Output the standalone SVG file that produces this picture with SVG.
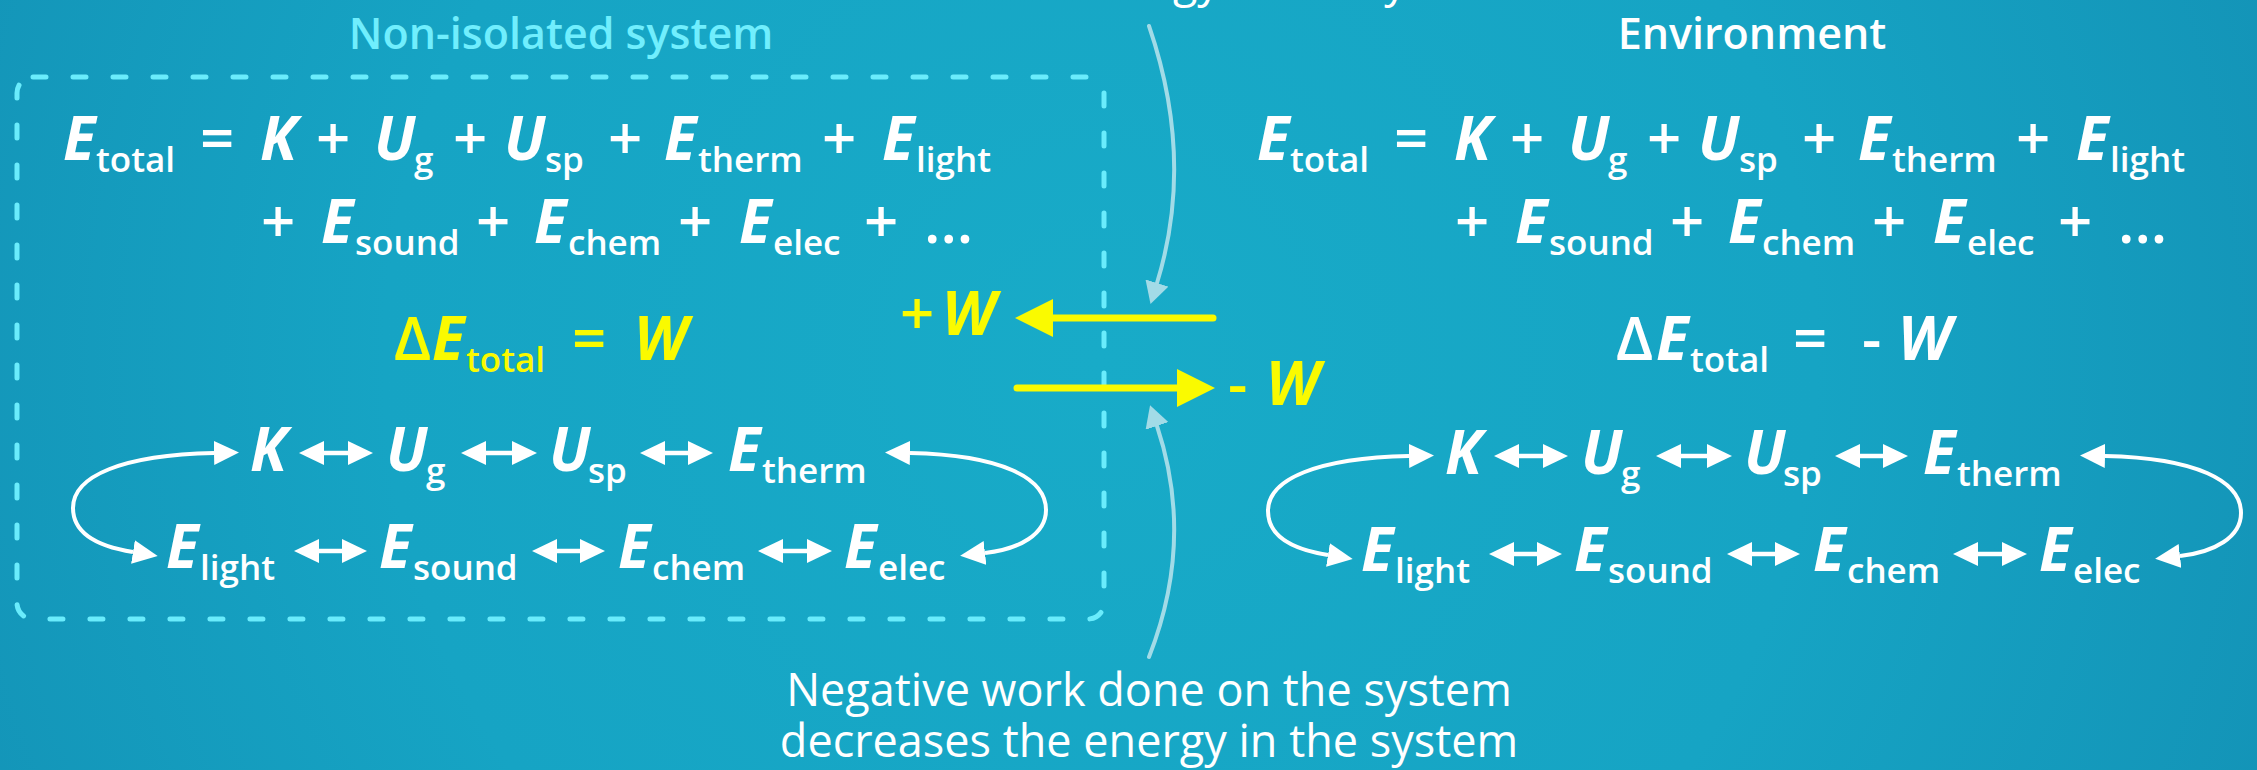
<svg xmlns="http://www.w3.org/2000/svg" width="2257" height="770" viewBox="0 0 2257 770">
  <defs>
    <radialGradient id="bg" cx="1100" cy="360" r="1300" gradientUnits="userSpaceOnUse">
      <stop offset="0" stop-color="#18abc8"/>
      <stop offset="0.55" stop-color="#16a4c4"/>
      <stop offset="1" stop-color="#1392b6"/>
    </radialGradient>
    <!-- white head for the energy-conversion chain -->
    <marker id="head-w" viewBox="0 0 25 24" markerWidth="25" markerHeight="24" refX="0" refY="12" orient="auto-start-reverse" markerUnits="userSpaceOnUse">
      <path d="M0,0 L25,12 L0,24 z" fill="#ffffff"/>
    </marker>
    <!-- yellow head for work arrows -->
    <marker id="head-y" viewBox="0 0 38 38" markerWidth="38" markerHeight="38" refX="0" refY="19" orient="auto" markerUnits="userSpaceOnUse">
      <path d="M0,0 L38,19 L0,38 z" fill="#fafa00"/>
    </marker>
    <!-- pale head for the note pointers -->
    <marker id="head-n" viewBox="0 0 22 24" markerWidth="22" markerHeight="24" refX="0" refY="12" orient="auto" markerUnits="userSpaceOnUse">
      <path d="M0,0 L22,12 L0,24 z" fill="#a2dbe7"/>
    </marker>
    <style>
      text { font-family: "Open Sans", "Liberation Sans", sans-serif; fill: #ffffff; }
      .title { font-size: 43px; font-weight: 600; text-anchor: middle; }
      .cyan { fill: #70eefd; }
      .v { font-size: 60px; font-style: italic; font-weight: 700; }
      .op { font-size: 60px; font-style: normal; font-weight: 600; }
      .s { font-size: 35px; font-style: normal; font-weight: 600; }
      .yel { fill: #fafa00; }
      .note { font-size: 45px; font-weight: 400; text-anchor: middle; }
      .box { fill: none; stroke: #6aecfc; stroke-width: 5; stroke-dasharray: 13 27; stroke-linecap: round; }
      .dbl { stroke: #ffffff; stroke-width: 4.5; fill: none; marker-start: url(#head-w); marker-end: url(#head-w); }
      .loop { stroke: #ffffff; stroke-width: 4; fill: none; marker-start: url(#head-w); marker-end: url(#head-w); }
      .work { stroke: #fafa00; stroke-width: 7; stroke-linecap: round; marker-end: url(#head-y); }
      .ptr { stroke: #a2dbe7; stroke-width: 4; fill: none; stroke-linecap: round; marker-end: url(#head-n); }
    </style>
  </defs>

  <rect width="2257" height="770" fill="url(#bg)"/>

  <!-- system boundary and title -->
  <g id="system">
    <rect class="box" x="17" y="77" width="1087" height="542" rx="16"/>
    <text class="title cyan" x="561" y="49">Non-isolated system</text>
  </g>

  <g id="environment">
    <text class="title" x="1752" y="49">Environment</text>
  </g>

  <!-- total energy sums -->
  <g id="system-energy">
    <text class="v" y="160">
      <tspan x="63">E</tspan><tspan class="s" x="96" y="172">total</tspan><tspan class="op" x="200" y="160">=</tspan><tspan x="260">K</tspan><tspan class="op" x="316">+</tspan><tspan x="374">U</tspan><tspan class="s" x="414" y="172">g</tspan><tspan class="op" x="453" y="160">+</tspan><tspan x="504">U</tspan><tspan class="s" x="545" y="172">sp</tspan><tspan class="op" x="608" y="160">+</tspan><tspan x="664">E</tspan><tspan class="s" x="698" y="172">therm</tspan><tspan class="op" x="822" y="160">+</tspan><tspan x="882">E</tspan><tspan class="s" x="916" y="172">light</tspan>
    </text>
    <text class="v" y="243">
      <tspan class="op" x="261">+</tspan><tspan x="321">E</tspan><tspan class="s" x="355" y="255">sound</tspan><tspan class="op" x="476" y="243">+</tspan><tspan x="534">E</tspan><tspan class="s" x="568" y="255">chem</tspan><tspan class="op" x="678" y="243">+</tspan><tspan x="739">E</tspan><tspan class="s" x="773" y="255">elec</tspan><tspan class="op" x="864" y="243">+</tspan><tspan class="op" x="924">...</tspan>
    </text>
  </g>

  <g id="environment-energy" transform="translate(1194,0)">
    <text class="v" y="160">
      <tspan x="63">E</tspan><tspan class="s" x="96" y="172">total</tspan><tspan class="op" x="200" y="160">=</tspan><tspan x="260">K</tspan><tspan class="op" x="316">+</tspan><tspan x="374">U</tspan><tspan class="s" x="414" y="172">g</tspan><tspan class="op" x="453" y="160">+</tspan><tspan x="504">U</tspan><tspan class="s" x="545" y="172">sp</tspan><tspan class="op" x="608" y="160">+</tspan><tspan x="664">E</tspan><tspan class="s" x="698" y="172">therm</tspan><tspan class="op" x="822" y="160">+</tspan><tspan x="882">E</tspan><tspan class="s" x="916" y="172">light</tspan>
    </text>
    <text class="v" y="243">
      <tspan class="op" x="261">+</tspan><tspan x="321">E</tspan><tspan class="s" x="355" y="255">sound</tspan><tspan class="op" x="476" y="243">+</tspan><tspan x="534">E</tspan><tspan class="s" x="568" y="255">chem</tspan><tspan class="op" x="678" y="243">+</tspan><tspan x="739">E</tspan><tspan class="s" x="773" y="255">elec</tspan><tspan class="op" x="864" y="243">+</tspan><tspan class="op" x="924">...</tspan>
    </text>
  </g>

  <!-- energy balance -->
  <g id="system-delta">
    <text class="v yel" y="360">
      <tspan class="op" x="394">Δ</tspan><tspan x="432">E</tspan><tspan class="s" x="466" y="372">total</tspan><tspan class="op" x="572" y="360">=</tspan><tspan x="634">W</tspan>
    </text>
  </g>

  <g id="environment-delta">
    <text class="v" y="360">
      <tspan class="op" x="1616">Δ</tspan><tspan x="1656">E</tspan><tspan class="s" x="1690" y="372">total</tspan><tspan class="op" x="1793" y="360">=</tspan><tspan class="op" x="1862">-</tspan><tspan x="1898">W</tspan>
    </text>
  </g>

  <!-- work labels -->
  <g id="work-in">
    <text class="v yel" y="335"><tspan class="op" x="900">+</tspan><tspan x="942">W</tspan></text>
  </g>
  <g id="work-out">
    <text class="v yel" y="405"><tspan class="op" x="1228">-</tspan><tspan x="1266">W</tspan></text>
  </g>

  <!-- energy forms inside the system -->
  <g id="system-chain">
    <text class="v" x="250" y="471">K</text>
    <text class="v" y="471"><tspan x="386">U</tspan><tspan class="s" x="426" y="483">g</tspan></text>
    <text class="v" y="471"><tspan x="549">U</tspan><tspan class="s" x="588" y="483">sp</tspan></text>
    <text class="v" y="471"><tspan x="728">E</tspan><tspan class="s" x="762" y="483">therm</tspan></text>
    <text class="v" y="568"><tspan x="166">E</tspan><tspan class="s" x="200" y="580">light</tspan></text>
    <text class="v" y="568"><tspan x="379">E</tspan><tspan class="s" x="413" y="580">sound</tspan></text>
    <text class="v" y="568"><tspan x="618">E</tspan><tspan class="s" x="652" y="580">chem</tspan></text>
    <text class="v" y="568"><tspan x="844">E</tspan><tspan class="s" x="878" y="580">elec</tspan></text>
  </g>

  <!-- energy forms in the environment -->
  <g id="environment-chain" transform="translate(1195,3)">
    <text class="v" x="250" y="471">K</text>
    <text class="v" y="471"><tspan x="386">U</tspan><tspan class="s" x="426" y="483">g</tspan></text>
    <text class="v" y="471"><tspan x="549">U</tspan><tspan class="s" x="588" y="483">sp</tspan></text>
    <text class="v" y="471"><tspan x="728">E</tspan><tspan class="s" x="762" y="483">therm</tspan></text>
    <text class="v" y="568"><tspan x="166">E</tspan><tspan class="s" x="200" y="580">light</tspan></text>
    <text class="v" y="568"><tspan x="379">E</tspan><tspan class="s" x="413" y="580">sound</tspan></text>
    <text class="v" y="568"><tspan x="618">E</tspan><tspan class="s" x="652" y="580">chem</tspan></text>
    <text class="v" y="568"><tspan x="844">E</tspan><tspan class="s" x="878" y="580">elec</tspan></text>
  </g>

  <!-- notes about the sign of the work -->
  <g id="note-positive">
    <text class="note" x="1149" y="-3">increases the energy in the system</text>
  </g>
  <g id="note-negative">
    <text class="note" x="1149" y="706">Negative work done on the system</text>
    <text class="note" x="1149" y="757">decreases the energy in the system</text>
  </g>

  <g id="connectors">
    <!-- work crossing the boundary -->
    <line class="work" x1="1213" y1="318" x2="1053" y2="318"/>
    <line class="work" x1="1017" y1="388" x2="1177" y2="388"/>
    <!-- note pointers -->
    <path class="ptr" d="M1149 26 Q1195 160 1157 283"/>
    <path class="ptr" d="M1149 657 Q1195 540 1157 426"/>
    <!-- conversions inside the system -->
    <g id="system-conversions">
      <line class="dbl" x1="324" y1="453" x2="348" y2="453"/>
      <line class="dbl" x1="486" y1="453" x2="512" y2="453"/>
      <line class="dbl" x1="665" y1="453" x2="688" y2="453"/>
      <line class="dbl" x1="319" y1="551" x2="342" y2="551"/>
      <line class="dbl" x1="557" y1="551" x2="580" y2="551"/>
      <line class="dbl" x1="783" y1="551" x2="807" y2="551"/>
      <path class="loop" d="M133 552 C95 546 73 532 73 508 C73 476 122 455 214 453"/>
      <path class="loop" d="M910 453 C1002 455 1046 478 1046 510 C1046 534 1020 549 985 553"/>
    </g>
    <!-- conversions in the environment -->
    <g id="environment-conversions" transform="translate(1195,3)">
      <line class="dbl" x1="324" y1="453" x2="348" y2="453"/>
      <line class="dbl" x1="486" y1="453" x2="512" y2="453"/>
      <line class="dbl" x1="665" y1="453" x2="688" y2="453"/>
      <line class="dbl" x1="319" y1="551" x2="342" y2="551"/>
      <line class="dbl" x1="557" y1="551" x2="580" y2="551"/>
      <line class="dbl" x1="783" y1="551" x2="807" y2="551"/>
      <path class="loop" d="M133 552 C95 546 73 532 73 508 C73 476 122 455 214 453"/>
      <path class="loop" d="M910 453 C1002 455 1046 478 1046 510 C1046 534 1020 549 985 553"/>
    </g>
  </g>
</svg>
